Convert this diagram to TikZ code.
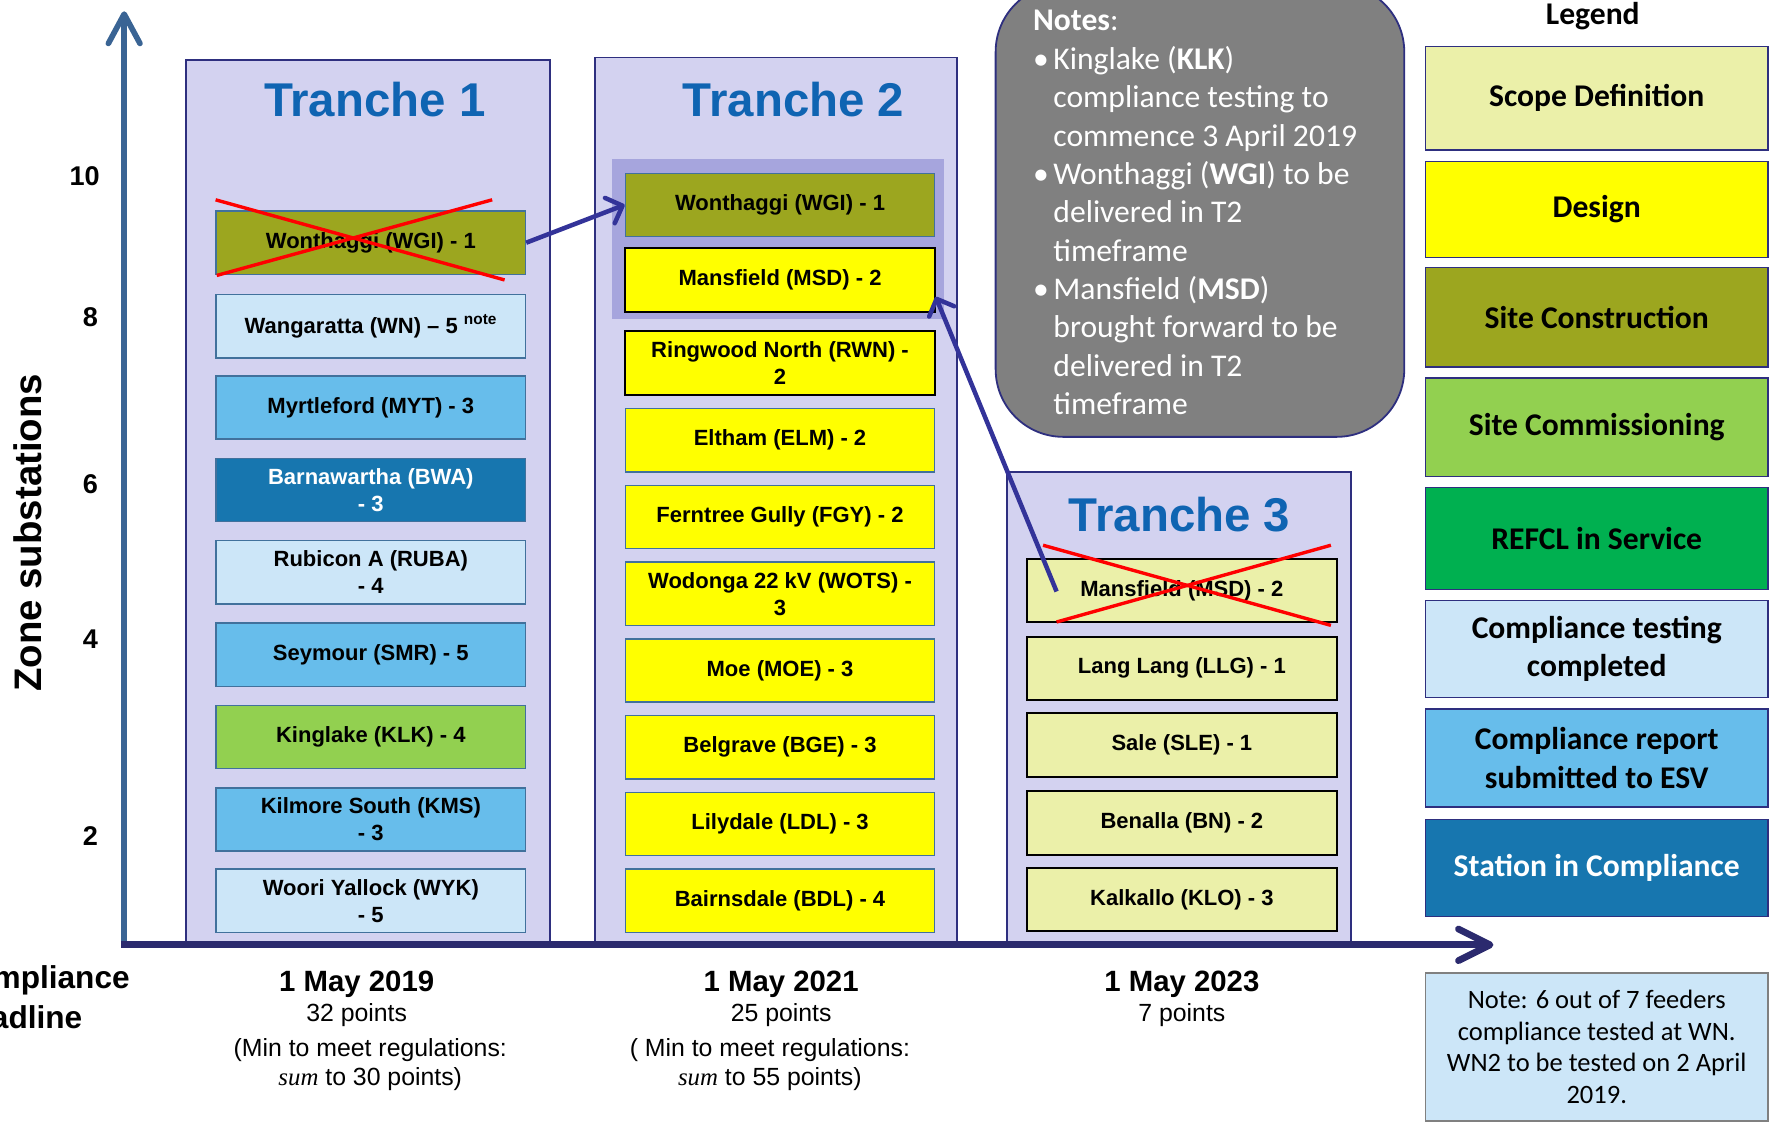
\documentclass[tikz,border=0pt]{standalone}
\usepackage{fontspec}
\setmainfont{Liberation Sans}
\newfontfamily\calibri{Carlito}
\newfontfamily\timesit{Liberation Serif}
\usetikzlibrary{arrows.meta}

\definecolor{lavender}{HTML}{D3D2F0}
\definecolor{navy}{HTML}{2E2F7F}
\definecolor{axisnavy}{HTML}{2B2A6E}
\definecolor{axisblue}{HTML}{3A6494}
\definecolor{groupfill}{HTML}{A6A5DD}
\definecolor{titleblue}{HTML}{0F64B2}
\definecolor{cscope}{HTML}{EBF0A9}
\definecolor{cdesign}{HTML}{FFFF00}
\definecolor{cconstr}{HTML}{9CA61F}
\definecolor{ccomm}{HTML}{92D050}
\definecolor{cservice}{HTML}{00B050}
\definecolor{ctested}{HTML}{CCE6F8}
\definecolor{creport}{HTML}{67BDEB}
\definecolor{ccompl}{HTML}{1776AF}
\definecolor{boxedge}{HTML}{41719C}
\definecolor{linkblue}{HTML}{333399}
\definecolor{notegray}{HTML}{808080}

\begin{document}
\begin{tikzpicture}[x=1pt, y=-1pt,
  tranche/.style={draw=navy, line width=1.6pt, fill=lavender},
  title/.style={text=titleblue, font=\fontsize{42}{50}\selectfont\bfseries},
  sub/.style={draw=boxedge, line width=1.3pt, minimum width=274pt, minimum height=56pt, inner sep=0pt, align=center, font=\fontsize{19.5}{24}\selectfont\bfseries},
  blk/.style={draw=black, line width=1.8pt},
  leg/.style={draw=navy, line width=1.3pt, minimum width=303pt, minimum height=88pt, inner sep=0pt, align=center, font=\calibri\fontsize{28}{34}\selectfont\bfseries},
  ylab/.style={font=\fontsize{24}{28}\selectfont\bfseries},
  date/.style={font=\fontsize{26}{30}\selectfont\bfseries},
  pts/.style={align=center, font=\fontsize{22}{26}\selectfont},
  cross/.style={red, line width=3pt},
  link/.style={linkblue, line width=4pt, -{Straight Barb[length=12pt, width=24pt, round]}},
]
\useasboundingbox (0,0) rectangle (1568,996);

% tranche columns
\draw [tranche] (165,53) rectangle (487,835);
\draw [tranche] (527,51) rectangle (848,835);
\draw [tranche] (892,418) rectangle (1197,835);
\fill [groupfill] (542,141) rectangle (836,283);

\node [title] (t1) at (332,88) {Tranche 1};
\node [title] (t2) at (703,88) {Tranche 2};
\node [title] (t3) at (1045,456) {Tranche 3};

% tranche 1
\node [sub, fill=cconstr] (wgiA) at (328.5,215) {Wonthaggi (WGI) - 1};
\node [sub, fill=ctested] (wn) at (328.5,289) {Wangaratta (WN) -- 5 \textsuperscript{note}};
\node [sub, fill=creport] (myt) at (328.5,361) {Myrtleford (MYT) - 3};
\node [sub, fill=ccompl, text=white] (bwa) at (328.5,434) {Barnawartha (BWA)\\- 3};
\node [sub, fill=ctested] (ruba) at (328.5,507) {Rubicon A (RUBA)\\- 4};
\node [sub, fill=creport] (smr) at (328.5,580) {Seymour (SMR) - 5};
\node [sub, fill=ccomm] (klk) at (328.5,653) {Kinglake (KLK) - 4};
\node [sub, fill=creport] (kms) at (328.5,726) {Kilmore South (KMS)\\- 3};
\node [sub, fill=ctested] (wyk) at (328.5,798) {Woori Yallock (WYK)\\- 5};

% tranche 2
\node [sub, fill=cconstr] (wgiB) at (691,181.5) {Wonthaggi (WGI) - 1};
\node [sub, blk, fill=cdesign] (msdB) at (691,248) {Mansfield (MSD) - 2};
\node [sub, blk, fill=cdesign] (rwn) at (691,321.5) {Ringwood North (RWN) -\\2};
\node [sub, fill=cdesign] (elm) at (691,390) {Eltham (ELM) - 2};
\node [sub, fill=cdesign] (fgy) at (691,458) {Ferntree Gully (FGY) - 2};
\node [sub, fill=cdesign] (wots) at (691,526) {Wodonga 22 kV (WOTS) -\\3};
\node [sub, fill=cdesign] (moe) at (691,594) {Moe (MOE) - 3};
\node [sub, fill=cdesign] (bge) at (691,662) {Belgrave (BGE) - 3};
\node [sub, fill=cdesign] (ldl) at (691,730) {Lilydale (LDL) - 3};
\node [sub, fill=cdesign] (bdl) at (691,798) {Bairnsdale (BDL) - 4};

% tranche 3
\node [sub, blk, fill=cscope] (msdC) at (1047,523) {Mansfield (MSD) - 2};
\node [sub, blk, fill=cscope] (llg) at (1047,592) {Lang Lang (LLG) - 1};
\node [sub, blk, fill=cscope] (sle) at (1047,660) {Sale (SLE) - 1};
\node [sub, blk, fill=cscope] (bn) at (1047,729) {Benalla (BN) - 2};
\node [sub, blk, fill=cscope] (klo) at (1047,797) {Kalkallo (KLO) - 3};

% moved stations
\draw [cross] (191,177) -- (447,248);
\draw [cross] (192,244) -- (436,177);
\draw [cross] (924,483) -- (1179,554);
\draw [cross] (936,551) -- (1179,483);
\draw [link] (wgiA.east) -- (wgiB.west);
\coordinate (msdtail) at (936,524);
\draw [link] (msdtail) -- ([yshift=14pt]msdB.south east);

% axes
\draw [axisblue, line width=5pt, -{Straight Barb[length=26pt, width=28pt, round]}] (110,835) -- (110,10);
\draw [axisnavy, line width=6pt, -{Straight Barb[length=28pt, width=28pt, round]}] (107,837) -- (1323,837);

\node [ylab] (y10) at (75,156) {10};
\node [ylab] (y8) at (80,281) {8};
\node [ylab] (y6) at (80,429) {6};
\node [ylab] (y4) at (80,566) {4};
\node [ylab] (y2) at (80,741) {2};
\node [rotate=90, font=\fontsize{34}{40}\selectfont\bfseries] (zone) at (25,472) {Zone substations};
\node [anchor=north west, inner sep=0pt, align=left, font=\fontsize{28}{36}\selectfont\bfseries] (deadline) at (-44,855) {Compliance\\Deadline};

% deadlines
\node [date] (d1) at (316,872) {1 May 2019};
\node [pts] (p1) at (316,899) {32 points};
\node [pts] (m1) at (328,943) {(Min to meet regulations:\\{\timesit\itshape sum} to 30 points)};
\node [date] (d2) at (692,872) {1 May 2021};
\node [pts] (p2) at (692,899) {25 points};
\node [pts] (m2) at (682,943) {( Min to meet regulations:\\{\timesit\itshape sum} to 55 points)};
\node [date] (d3) at (1047,872) {1 May 2023};
\node [pts] (p3) at (1047,899) {7 points};

% notes
\draw [draw=navy, line width=1.6pt, fill=notegray, rounded corners=60pt] (882,-14) rectangle (1244,387);
\node [anchor=north west, inner sep=0pt, align=left, text=white, font=\calibri\fontsize{28}{34}\selectfont] (notes) at (915,9) {\textbf{Notes}:\\
\makebox[18pt][l]{\textbullet}Kinglake (\textbf{KLK})\\
\hspace*{18pt}compliance testing to\\
\hspace*{18pt}commence 3 April 2019\\
\makebox[18pt][l]{\textbullet}Wonthaggi (\textbf{WGI}) to be\\
\hspace*{18pt}delivered in T2\\
\hspace*{18pt}timeframe\\
\makebox[18pt][l]{\textbullet}Mansfield (\textbf{MSD})\\
\hspace*{18pt}brought forward to be\\
\hspace*{18pt}delivered in T2\\
\hspace*{18pt}timeframe};

% legend
\node [font=\calibri\fontsize{28}{34}\selectfont\bfseries] (legend) at (1411,14) {Legend};
\node [leg, fill=cscope, minimum height=92pt] (lscope) at (1414.5,87) {Scope Definition};
\node [leg, fill=cdesign, minimum height=85pt] (ldesign) at (1414.5,185.5) {Design};
\node [leg, fill=cconstr] (lconstr) at (1414.5,281) {Site Construction};
\node [leg, fill=ccomm, minimum height=87pt] (lcomm) at (1414.5,378.5) {Site Commissioning};
\node [leg, fill=cservice, minimum height=90pt] (lservice) at (1414.5,477) {REFCL in Service};
\node [leg, fill=ctested, minimum height=86pt] (ltested) at (1414.5,575) {Compliance testing\\completed};
\node [leg, fill=creport, minimum height=87pt] (lreport) at (1414.5,671.5) {Compliance report\\submitted to ESV};
\node [leg, fill=ccompl, text=white, minimum height=86pt] (lcompl) at (1414.5,769) {Station in Compliance};

\node [draw=gray, line width=1.3pt, fill=ctested, minimum width=303pt, minimum height=131pt, inner sep=0pt, align=center, font=\calibri\fontsize{23.5}{28}\selectfont] (wnnote) at (1414.5,927.5) {Note: 6 out of 7 feeders\\compliance tested at WN.\\WN2 to be tested on 2 April\\2019.};

\end{tikzpicture}
\end{document}
